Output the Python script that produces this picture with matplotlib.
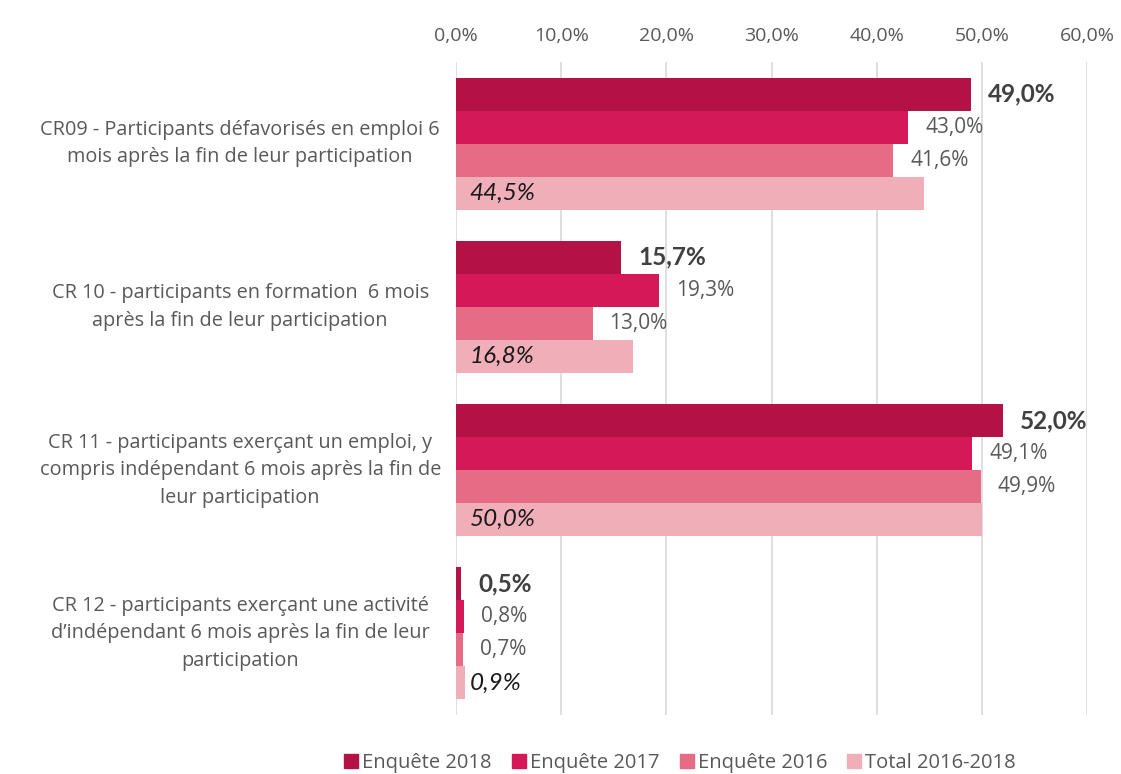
import matplotlib.pyplot as plt
import numpy as np

plt.rcParams['font.family'] = ['Open Sans', 'DejaVu Sans']

categories = [
    "CR09 - Participants défavorisés en emploi 6\nmois après la fin de leur participation",
    "CR 10 - participants en formation  6 mois\naprès la fin de leur participation",
    "CR 11 - participants exerçant un emploi, y\ncompris indépendant 6 mois après la fin de\nleur participation",
    "CR 12 - participants exerçant une activité\nd’indépendant 6 mois après la fin de leur\nparticipation",
]
series_names = ["Enquête 2018", "Enquête 2017", "Enquête 2016", "Total 2016-2018"]
values = {
    "Enquête 2018": [49.0, 15.7, 52.0, 0.5],
    "Enquête 2017": [43.0, 19.3, 49.1, 0.8],
    "Enquête 2016": [41.6, 13.0, 49.9, 0.7],
    "Total 2016-2018": [44.5, 16.8, 50.0, 0.9],
}
colors = ["#B31246", "#D41858", "#E66B85", "#F0AEB8"]

fig = plt.figure(figsize=(11.21, 7.74), dpi=100)
ax = fig.add_axes([456/1121, 1 - 715/774, (1087 - 456)/1121, (715 - 62)/774])

bh = 0.202
y = np.arange(len(categories))
for i, name in enumerate(series_names):
    ypos = y - 1.5*bh + i*bh
    vals = values[name]
    ax.barh(ypos, vals, height=bh, color=colors[i], zorder=2)
    for yy, v in zip(ypos, vals):
        txt = f"{v:.1f}%".replace(".", ",")
        if i == 0:
            ax.text(v + 1.6, yy, txt, va='center', ha='left', fontsize=17.5,
                    fontweight='bold', color='#404040', family=['Lato', 'DejaVu Sans'])
        elif i == 3:
            ax.text(1.3, yy, txt, va='center', ha='left', fontsize=17.5,
                    style='italic', color='#1a1a1a', family=['Lato', 'DejaVu Sans'])
        else:
            ax.text(v + 1.6, yy, txt, va='center', ha='left', fontsize=15,
                    color='#595959')

ax.set_ylim(len(categories) - 0.5, -0.5)
ax.set_xlim(0, 60)
ax.set_xticks(np.arange(0, 61, 10))
ax.set_xticklabels([f"{t:.1f}%".replace(".", ",") for t in np.arange(0, 61, 10)])
ax.xaxis.tick_top()
ax.tick_params(axis='x', length=0, labelsize=14, labelcolor='#595959', pad=12)
ax.set_yticks([])
ax.grid(axis='x', color='#D9D9D9', linewidth=1.2, zorder=0)
for s in ax.spines.values():
    s.set_visible(False)

for yy, lab in zip(y, categories):
    ax.text(-0.342, yy, lab, transform=ax.get_yaxis_transform(), ha='center',
            va='center', fontsize=14.3, color='#595959', linespacing=1.5)

handles = [plt.Rectangle((0, 0), 1, 1, color=c) for c in colors]
fig.legend(handles, series_names, loc='center', bbox_to_anchor=(680/1121, 1 - 763/774),
           ncol=4, frameon=False, fontsize=14.5, labelcolor='#595959',
           handlelength=0.7, handleheight=0.7, handletextpad=0.2, columnspacing=1.0)

fig.savefig("out.png", dpi=100)
